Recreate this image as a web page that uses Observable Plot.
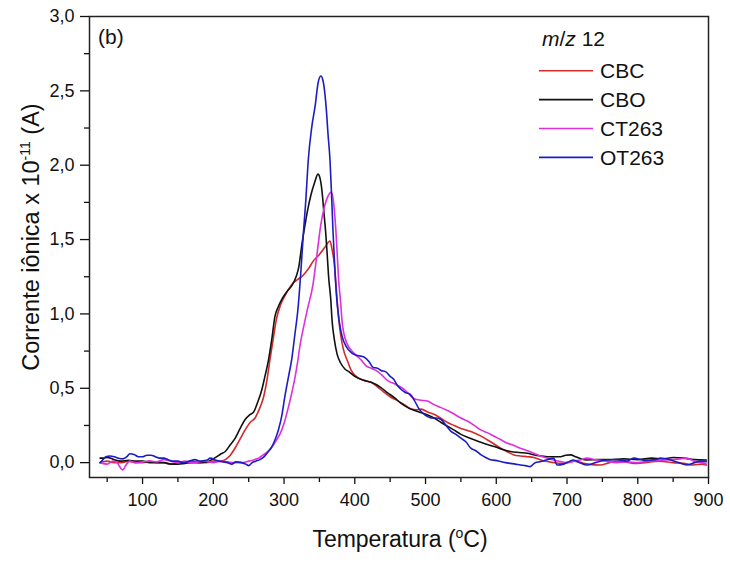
<!DOCTYPE html>
<html>
<head>
<meta charset="utf-8">
<script src="https://cdn.jsdelivr.net/npm/d3@7"></script>
<script src="https://cdn.jsdelivr.net/npm/@observablehq/plot@0.6"></script>
<style>
  html, body { margin: 0; padding: 0; background: #fff; }
  svg { display: block; }
</style>
</head>
<body>
<div id="chart"></div>
<script>
// ---- Data ----
const seriesNames = ["CBC", "CBO", "CT263", "OT263"];
const seriesColors = ["#d22a2a", "#111111", "#dd30dd", "#1c1cc4"];

const cbcT = [40,50,60,70,80,90,100,110,120,130,140,150,160,170,180,190,200,210,217,224,231,238,245,252,259,265,271,276,280,285,289,295,301,307,313,319,327,334,342,350,358,365,368,371,374,377,380,384,390,395,402,409,416,423,432,442,451,461,470,480,487,494,503,512,521,531,540,550,560,569,578,587,597,606,615,625,634,644,653,662,672,681,691,700,710,720,730,747,760,775,794,810,830,850,865,878,890,897];
const cbcV = [0.0,0.01,0.0,0.0,0.01,0.0,0.0,0.01,0.0,0.0,-0.01,0.0,0.0,0.01,0.0,0.0,0.01,0.01,0.02,0.05,0.10,0.16,0.22,0.27,0.30,0.36,0.44,0.56,0.69,0.84,0.96,1.06,1.12,1.17,1.21,1.23,1.26,1.30,1.36,1.40,1.45,1.49,1.43,1.34,1.16,0.98,0.86,0.76,0.68,0.62,0.58,0.56,0.55,0.54,0.51,0.47,0.44,0.415,0.39,0.36,0.355,0.36,0.34,0.325,0.30,0.27,0.25,0.23,0.215,0.20,0.18,0.154,0.125,0.097,0.075,0.052,0.045,0.04,0.035,0.02,0.007,0.0,-0.005,0.0,0.01,0.0,-0.01,-0.016,0.0,0.01,-0.005,0.0,0.01,0.0,-0.005,-0.016,-0.01,-0.016];

const cboT = [40,45,50,55,60,70,80,90,100,110,120,130,140,150,160,170,180,190,198,205,211,217,224,231,238,245,251,257,263,268,273,278,283,287,292,297,304,311,317,321,325,329,333,338,343,348,351,354,356,359,361,363,366,368,371,375,380,386,392,400,414,423,437,446,456,465,475,485,494,503,512,522,531,540,550,562,574,585,597,608,620,632,644,655,664,672,681,691,698,705,712,720,728,745,760,780,800,820,835,850,865,880,897];
const cboV = [0.03,0.03,0.035,0.03,0.02,0.01,0.015,0.01,0.01,0.0,0.0,0.0,-0.01,-0.01,-0.005,0.0,0.0,0.005,0.02,0.04,0.06,0.075,0.12,0.165,0.23,0.29,0.32,0.34,0.41,0.48,0.58,0.69,0.84,0.98,1.05,1.10,1.15,1.19,1.25,1.32,1.46,1.58,1.69,1.80,1.88,1.94,1.91,1.81,1.70,1.54,1.40,1.25,1.10,0.95,0.83,0.73,0.67,0.63,0.61,0.58,0.55,0.54,0.505,0.47,0.437,0.40,0.37,0.35,0.335,0.32,0.30,0.27,0.245,0.22,0.19,0.165,0.143,0.125,0.109,0.09,0.075,0.068,0.063,0.05,0.045,0.04,0.04,0.04,0.05,0.052,0.04,0.025,0.018,0.02,0.02,0.025,0.02,0.03,0.025,0.034,0.03,0.02,0.018];

const ctT = [40,50,58,64,68,72,76,82,90,100,110,120,130,140,150,160,170,180,190,200,210,220,230,240,250,258,264,270,276,282,289,296,301,306,311,315,319,323,328,333,341,346,352,357,362,367,370,373,375,377,380,382,385,389,395,400,409,416,423,430,438,447,456,466,475,484,494,503,512,522,531,541,550,559,569,578,588,597,606,616,625,634,644,653,662,672,681,691,700,710,720,728,740,755,770,785,800,815,830,845,860,869,880,890,897];
const ctV = [0.0,-0.01,0.01,0.0,-0.03,-0.05,-0.02,0.01,0.0,0.005,0.01,0.005,0.02,0.01,0.0,0.01,0.0,0.005,0.01,0.0,0.01,0.005,0.0,0.0,0.01,0.02,0.03,0.05,0.07,0.10,0.15,0.21,0.28,0.37,0.47,0.56,0.67,0.80,0.92,1.03,1.20,1.38,1.60,1.72,1.79,1.82,1.75,1.58,1.42,1.24,1.08,0.95,0.86,0.80,0.755,0.73,0.69,0.65,0.635,0.62,0.59,0.55,0.53,0.505,0.47,0.43,0.42,0.415,0.39,0.37,0.35,0.325,0.30,0.28,0.25,0.22,0.20,0.177,0.155,0.13,0.115,0.097,0.08,0.063,0.045,0.03,0.018,0.007,0.0,0.01,0.02,0.03,0.02,0.01,0.0,0.005,0.0,0.01,0.015,0.02,0.025,0.03,0.01,0.0,-0.01];

const otT = [40,44,48,54,60,66,72,78,82,88,94,100,106,112,118,124,130,136,142,150,158,166,174,182,190,196,202,208,214,220,226,232,240,246,250,255,260,266,272,277,282,287,292,297,301,306,311,315,320,324,327,331,334,339,344,348,352,355,358,360,362,365,367,369,371,374,378,382,388,395,404,413,420,426,432,437,444,450,455,460,466,472,478,484,491,497,503,508,515,522,529,536,543,550,557,564,571,578,585,592,599,606,613,620,627,634,641,648,655,663,672,681,686,695,702,709,718,728,740,756,770,785,794,810,825,832,845,858,869,880,890,897];
const otV = [0.0,0.02,0.04,0.045,0.04,0.03,0.025,0.04,0.06,0.055,0.04,0.04,0.05,0.05,0.04,0.03,0.03,0.02,0.01,0.01,0.0,0.01,0.02,0.01,0.015,0.03,0.02,0.01,0.005,0.0,-0.01,0.005,0.0,-0.01,-0.02,0.0,0.01,0.02,0.04,0.07,0.10,0.15,0.22,0.32,0.44,0.57,0.70,0.85,1.05,1.30,1.52,1.78,2.02,2.25,2.40,2.55,2.60,2.57,2.47,2.36,2.22,2.03,1.82,1.58,1.38,1.13,0.95,0.85,0.78,0.74,0.72,0.71,0.68,0.64,0.635,0.62,0.61,0.58,0.56,0.52,0.49,0.47,0.46,0.42,0.36,0.33,0.31,0.30,0.30,0.29,0.25,0.21,0.19,0.165,0.14,0.097,0.08,0.054,0.035,0.02,0.015,0.007,0.0,-0.005,-0.01,-0.016,-0.02,-0.027,0.0,0.007,0.02,0.03,-0.016,-0.01,0.005,0.018,0.0,-0.016,0.0,0.018,0.02,0.01,0.03,0.015,0.02,0.03,0.02,0.0,-0.016,0.0,0.01,0.007];

const xMajorTicks = [100,200,300,400,500,600,700,800,900];
const xMinorTicks = [50,150,250,350,450,550,650,750,850];
const yMajorTicks = [0,0.5,1.0,1.5,2.0,2.5,3.0];
const yMinorTicks = [0.25,0.75,1.25,1.75,2.25,2.75];

// ---- Build table ----
const temps = [cbcT, cboT, ctT, otT];
const vals = [cbcV, cboV, ctV, otV];
const rows = [];
seriesNames.forEach((name, i) => {
  temps[i].forEach((t, j) => rows.push({series: name, t, v: vals[i][j]}));
});

const FONT = "'Liberation Sans', Arial, sans-serif";
const fmtY = d => d.toFixed(1).replace(".", ",");

const plot = Plot.plot({
  width: 730,
  height: 563,
  marginLeft: 89,
  marginRight: 22,
  marginTop: 16,
  marginBottom: 86,
  style: {fontFamily: FONT, background: "#fff", color: "#111"},
  x: {domain: [25, 900]},
  y: {domain: [-0.1, 3.0]},
  color: {domain: seriesNames, range: seriesColors},
  marks: [
    Plot.axisX({ticks: xMajorTicks, tickSize: 7, tickPadding: 9, fontSize: 18, label: null, strokeWidth: 1.3}),
    Plot.axisX({ticks: xMinorTicks, tickSize: 5, tickFormat: () => "", label: null, strokeWidth: 1.3}),
    Plot.axisY({ticks: yMajorTicks, tickSize: 9, tickPadding: 6, fontSize: 18, tickFormat: fmtY, label: null, strokeWidth: 1.3}),
    Plot.axisY({ticks: yMinorTicks, tickSize: 5, tickFormat: () => "", label: null, strokeWidth: 1.3}),
    Plot.line(rows, {x: "t", y: "v", z: "series", stroke: "series", strokeWidth: 1.6, curve: "monotone-x"}),
    Plot.frame({stroke: "#222", strokeWidth: 1.5})
  ]
});

document.getElementById("chart").appendChild(plot);

// ---- Text annotations (titles, panel label, legend) ----
const svg = d3.select(plot);
const g = svg.append("g").attr("font-family", FONT).attr("fill", "#111").attr("text-anchor", "start");

// x-axis title
const xt = g.append("text").attr("x", 400).attr("y", 547).attr("text-anchor", "middle").attr("font-size", 23);
xt.append("tspan").text("Temperatura (");
xt.append("tspan").attr("font-size", 14).attr("dy", -9).text("o");
xt.append("tspan").attr("dy", 9).text("C)");

// y-axis title
const yt = g.append("text").attr("transform", "translate(39,237) rotate(-90)").attr("text-anchor", "middle").attr("font-size", 23.5);
yt.append("tspan").text("Corrente iônica x 10");
yt.append("tspan").attr("font-size", 14).attr("dy", -9).text("-11");
yt.append("tspan").attr("dy", 9).text(" (A)");

// panel label
g.append("text").attr("x", 98).attr("y", 44).attr("text-anchor", "start").attr("font-size", 21).text("(b)");

// legend
const lt = g.append("text").attr("x", 542).attr("y", 46).attr("text-anchor", "start").attr("font-size", 21);
lt.append("tspan").attr("font-style", "italic").text("m");
lt.append("tspan").text("/");
lt.append("tspan").attr("font-style", "italic").text("z");
lt.append("tspan").text(" 12");

seriesNames.forEach((name, i) => {
  const y = 70.7 + i * 28.9;
  g.append("line").attr("x1", 539).attr("x2", 593).attr("y1", y).attr("y2", y)
    .attr("stroke", seriesColors[i]).attr("stroke-width", 1.6);
  g.append("text").attr("x", 600).attr("y", y).attr("dy", "0.36em").attr("text-anchor", "start")
    .attr("font-size", 21).text(name);
});
</script>
</body>
</html>
